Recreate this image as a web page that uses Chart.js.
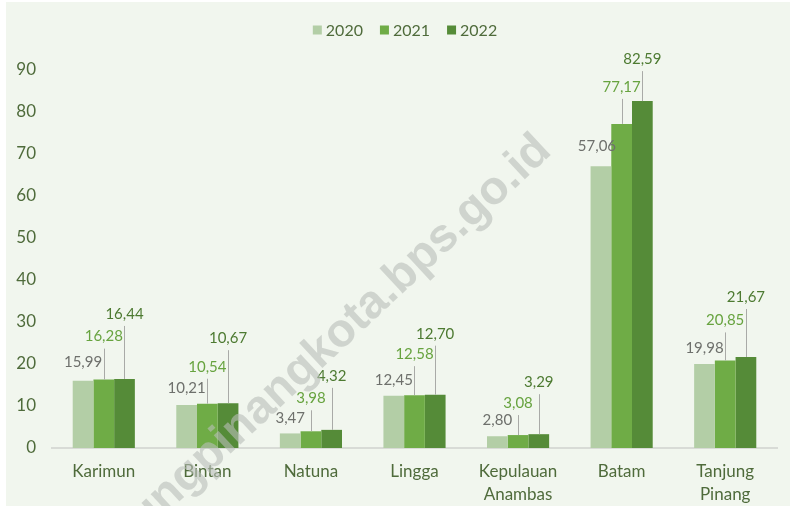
<!DOCTYPE html>
<html>
<head>
<meta charset="utf-8">
<script src="https://cdn.jsdelivr.net/npm/chart.js@4.4.1/dist/chart.umd.min.js"></script>
<style>
    html, body { margin: 0; padding: 0; background: #ffffff; }
    #wrap { position: absolute; left: 0; top: 0; width: 793px; height: 506px; }
</style>
</head>
<body>
<div id="wrap"><canvas id="chart" width="793" height="506"></canvas></div>
<script>
// === 数据 ===
const categories = ['Karimun', 'Bintan', 'Natuna', 'Lingga', ['Kepulauan', 'Anambas'], 'Batam', ['Tanjung', 'Pinang']];
const years = ['2020', '2021', '2022'];
const values2020 = [15.99, 10.21, 3.47, 12.45, 2.80, 67.06, 19.98]; // Batam bar drawn ~67 in source
const values2021 = [16.28, 10.54, 3.98, 12.58, 3.08, 77.17, 20.85];
const values2022 = [16.44, 10.67, 4.32, 12.70, 3.29, 82.59, 21.67];
const labelOverrides = { '0-5': '57,06' }; // label printed in source differs from bar height
const yTicks = { min: 0, max: 90, step: 10 };

// === 样式 ===
const bg = '#f1f6ee';
const barColors = ['#b3cea6', '#6fac46', '#558b38'];
const labelColors = ['#6e706c', '#67a33f', '#4d7a31'];
const axisText = '#4f6b3b';
const fontFamily = "Lato, 'Open Sans', sans-serif";

// label distance above bar top (px), per dataset per category
const labelLift = [
    [19, 17, 15, 16, 16, 20, 16],
    [43, 37, 33, 41, 32, 37, 40],
    [65, 65, 54, 61, 52, 42, 60]
];
const labelShiftX = [
    [0, 0, 0, 0, 0, -4, 0],
    [0, 0, 0, 0, 0, 0, 0],
    [0, 0, 0, 0, 0, 0, 0]
];

const fmt = v => v.toFixed(2).replace('.', ',');

// 背景
const bgPlugin = {
    id: 'bgPanel',
    beforeDraw(chart) {
        const ctx = chart.ctx;
        ctx.save();
        ctx.fillStyle = bg;
        ctx.fillRect(6, 2, 784, 504);
        ctx.restore();
    }
};

// 图例
const legendPlugin = {
    id: 'topLegend',
    afterDraw(chart) {
        const ctx = chart.ctx;
        ctx.save();
        ctx.font = '16px ' + fontFamily;
        ctx.textBaseline = 'middle';
        const box = 9, gap = 4, space = 17, cy = 30, cx = 405;
        const widths = years.map(y => ctx.measureText(y).width);
        const total = widths.reduce((a, w) => a + box + gap + w, 0) + space * (years.length - 1);
        let x = cx - total / 2;
        years.forEach((y, i) => {
            ctx.fillStyle = barColors[i];
            ctx.fillRect(x, cy - box / 2, box, box);
            ctx.fillStyle = axisText;
            ctx.textAlign = 'left';
            ctx.fillText(y, x + box + gap, cy + 1);
            x += box + gap + widths[i] + space;
        });
        ctx.restore();
    }
};

// 数据标签 + 引线
const labelPlugin = {
    id: 'valueLabels',
    afterDatasetsDraw(chart) {
        const ctx = chart.ctx;
        ctx.save();
        ctx.font = '15px ' + fontFamily;
        ctx.textAlign = 'center';
        ctx.textBaseline = 'middle';
        chart.data.datasets.forEach((ds, i) => {
            const meta = chart.getDatasetMeta(i);
            meta.data.forEach((bar, j) => {
                const cy = bar.y - labelLift[i][j];
                const cx = bar.x + labelShiftX[i][j];
                if (i > 0) {
                    ctx.strokeStyle = '#a9aaa7';
                    ctx.lineWidth = 1;
                    ctx.beginPath();
                    ctx.moveTo(Math.round(bar.x) + 0.5, cy + 12);
                    ctx.lineTo(Math.round(bar.x) + 0.5, bar.y);
                    ctx.stroke();
                }
                ctx.fillStyle = labelColors[i];
                const txt = labelOverrides[i + '-' + j] || fmt(ds.data[j]);
                ctx.fillText(txt, cx, cy);
            });
        });
        ctx.restore();
    }
};

// 水印
const watermarkPlugin = {
    id: 'watermark',
    afterDraw(chart) {
        const ctx = chart.ctx;
        ctx.save();
        ctx.beginPath();
        ctx.rect(6, 2, 784, 504);
        ctx.clip();
        ctx.translate(553, 153);
        ctx.rotate(-43 * Math.PI / 180);
        ctx.font = "bold 47px 'Liberation Sans', Arial, sans-serif";
        ctx.fillStyle = 'rgba(185, 190, 185, 0.6)';
        ctx.textAlign = 'right';
        ctx.textBaseline = 'alphabetic';
        ctx.fillText('tanjungpinangkota.bps.go.id', 0, 0);
        ctx.restore();
    }
};

const chart = new Chart(document.getElementById('chart').getContext('2d'), {
    type: 'bar',
    data: {
        labels: categories,
        datasets: [
            { label: years[0], data: values2020, backgroundColor: barColors[0] },
            { label: years[1], data: values2021, backgroundColor: barColors[1] },
            { label: years[2], data: values2022, backgroundColor: barColors[2] }
        ]
    },
    options: {
        responsive: false,
        animation: false,
        devicePixelRatio: 1,
        datasets: { bar: { categoryPercentage: 0.6, barPercentage: 1.0 } },
        layout: { padding: { top: 70, right: 16, bottom: 0, left: 0 } },
        plugins: { legend: { display: false }, tooltip: { enabled: false } },
        scales: {
            x: {
                grid: { display: false, drawTicks: false },
                border: { display: true, color: '#d8dbd6', width: 2 },
                ticks: { color: axisText, padding: 12, font: { family: fontFamily, size: 17, lineHeight: 1.35 }, maxRotation: 0, autoSkip: false },
                afterFit: s => { s.height = 58; }
            },
            y: {
                min: yTicks.min,
                max: yTicks.max,
                grid: { display: false, drawTicks: false },
                border: { display: false },
                ticks: { stepSize: yTicks.step, color: axisText, padding: 16, font: { family: fontFamily, size: 17 } },
                afterFit: s => { s.width = 52; }
            }
        }
    },
    plugins: [bgPlugin, labelPlugin, legendPlugin, watermarkPlugin]
});
</script>
</body>
</html>
